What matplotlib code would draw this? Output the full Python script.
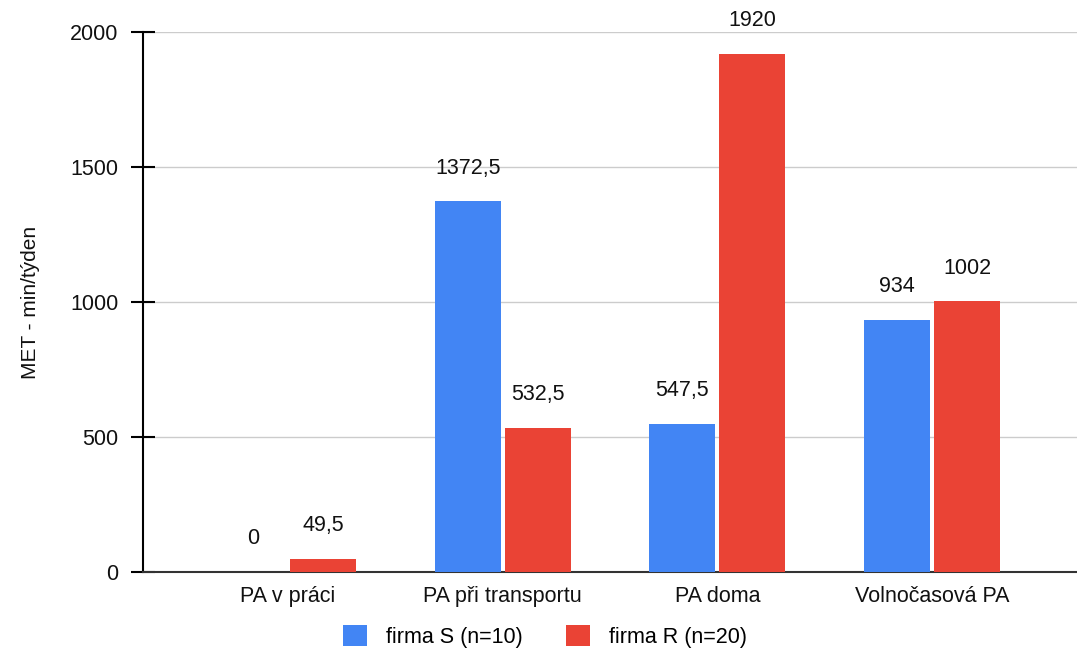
import numpy as np
from matplotlib import pyplot as plt

categories = ['PA v práci', 'PA při transportu', 'PA doma', 'Volnočasová PA']
firma_s = [0, 1372.5, 547.5, 934]
firma_r = [49.5, 532.5, 1920, 1002]
labels_s = ['0', '1372,5', '547,5', '934']
labels_r = ['49,5', '532,5', '1920', '1002']
series_names = ['firma S (n=10)', 'firma R (n=20)']

plt.rcParams['font.family'] = ['Liberation Sans', 'DejaVu Sans']

fig = plt.figure(figsize=(10.77, 6.53), dpi=100)
ax = fig.add_axes([143 / 1077, 81 / 653, 1 - 143 / 1077, 540 / 653])

x = np.arange(len(categories))
w = 0.307
off = 0.163
blue = '#4285F4'
red = '#EA4335'

b1 = ax.bar(x - off, firma_s, w, color=blue, label=series_names[0], zorder=3)
b2 = ax.bar(x + off, firma_r, w, color=red, label=series_names[1], zorder=3)

# value labels above bars
for xi, v, t in zip(x - off, firma_s, labels_s):
    ax.annotate(t, (xi, v), xytext=(0, 24), textcoords='offset points',
                ha='center', va='center', fontsize=15.5, color='#111111')
for xi, v, t in zip(x + off, firma_r, labels_r):
    ax.annotate(t, (xi, v), xytext=(0, 24), textcoords='offset points',
                ha='center', va='center', fontsize=15.5, color='#111111')

ax.set_xlim(-0.675, 3.675)
ax.set_ylim(0, 2000)
ax.set_yticks([0, 500, 1000, 1500, 2000])
ax.set_xticks(x)
ax.set_xticklabels(categories, fontsize=15.5, color='#111111')
ax.tick_params(axis='x', length=0, pad=10)
ax.tick_params(axis='y', direction='inout', length=17, width=1.5,
               labelsize=15.5, labelcolor='#111111', pad=9)
ax.yaxis.grid(True, color='#cccccc', linewidth=1, zorder=0)
ax.set_axisbelow(True)

for s in ['top', 'right']:
    ax.spines[s].set_visible(False)
ax.spines['left'].set_linewidth(1.5)
ax.spines['bottom'].set_linewidth(1.5)
ax.spines['bottom'].set_color('#333333')

ax.set_ylabel('MET - min/týden', fontsize=15, color='#111111', labelpad=22)

fig.legend(handles=[b1, b2], loc='lower center', bbox_to_anchor=(0.506, -0.022),
           ncol=2, frameon=False, fontsize=15.5, handlelength=1.1, handleheight=1.1,
           columnspacing=2.0, handletextpad=0.9)

fig.savefig('out.png', dpi=100)
